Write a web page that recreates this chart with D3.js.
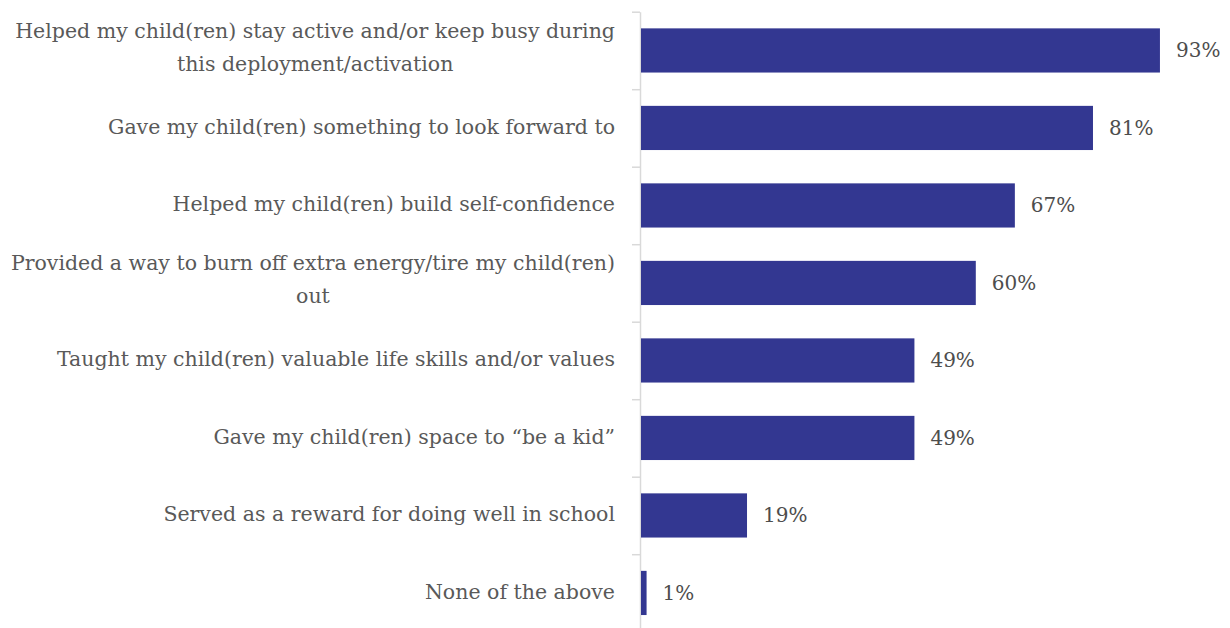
<!DOCTYPE html>
<html>
<head>
<meta charset="utf-8">
<script src="https://cdn.jsdelivr.net/npm/d3@7"></script>
<style>
  html, body { margin: 0; padding: 0; background: #ffffff; }
  svg { display: block; }
  .cat { font-family: "DejaVu Serif", serif; font-size: 20.5px; fill: #595959; }
  .val { font-family: "DejaVu Serif", serif; font-size: 20px; fill: #4d4d4d; }
</style>
</head>
<body>
<svg id="chart" width="1230" height="628"></svg>
<script>
// Survey responses: reasons the activity helped, share of respondents
const categories = [
  "Helped my child(ren) stay active and/or keep busy during\nthis deployment/activation",
  "Gave my child(ren) something to look forward to",
  "Helped my child(ren) build self-confidence",
  "Provided a way to burn off extra energy/tire my child(ren)\nout",
  "Taught my child(ren) valuable life skills and/or values",
  "Gave my child(ren) space to \u201cbe a kid\u201d",
  "Served as a reward for doing well in school",
  "None of the above"
];
const values = [93, 81, 67, 60, 49, 49, 19, 1];
const valueLabels = ["93%", "81%", "67%", "60%", "49%", "49%", "19%", "1%"];

const svg = d3.select("#chart");

const x = d3.scaleLinear().domain([0, 100]).range([641, 1199]);
const y = d3.scaleBand()
  .domain(categories)
  .range([11.7, 631.7])
  .paddingInner(0.43)
  .paddingOuter(0.215);

// category axis: ticks sit on the boundaries between categories
const edge = d3.scaleLinear().domain([0, categories.length]).range(y.range());
const axis = svg.append("g")
  .attr("transform", "translate(640,0)")
  .call(d3.axisLeft(edge)
    .tickValues(d3.range(categories.length + 1))
    .tickFormat("")
    .tickSize(8)
    .tickSizeOuter(0));
axis.selectAll("line, path").attr("stroke", "#d9d9d9").attr("stroke-width", 1.5);

// bars
svg.append("g").selectAll("rect")
  .data(values)
  .join("rect")
  .attr("x", x(0))
  .attr("y", (d, i) => y(categories[i]))
  .attr("width", d => x(d) - x(0))
  .attr("height", y.bandwidth())
  .attr("fill", "#333791");

// value labels
svg.append("g").selectAll("text")
  .data(values)
  .join("text")
  .attr("class", "val")
  .attr("x", d => x(d) + 16)
  .attr("y", (d, i) => y(categories[i]) + y.bandwidth() / 2 + 7)
  .text((d, i) => valueLabels[i]);

// category labels, wrapped lines centred within a right-aligned block
const labelRight = 615;
const lineGap = 33;
const labels = svg.append("g");
categories.forEach((c, i) => {
  const lines = c.split("\n");
  const cy = y(c) + y.bandwidth() / 2;
  const t = labels.append("text").attr("class", "cat").attr("text-anchor", "middle");
  const spans = lines.map((ln, k) => t.append("tspan").text(ln));
  const maxW = d3.max(spans, s => s.node().getComputedTextLength());
  const cx = labelRight - maxW / 2;
  const first = lines.length === 1 ? cy + 6 : cy + 4 - lineGap / 2;
  spans.forEach((s, k) => s.attr("x", cx).attr("y", first + k * lineGap));
});
</script>
</body>
</html>
